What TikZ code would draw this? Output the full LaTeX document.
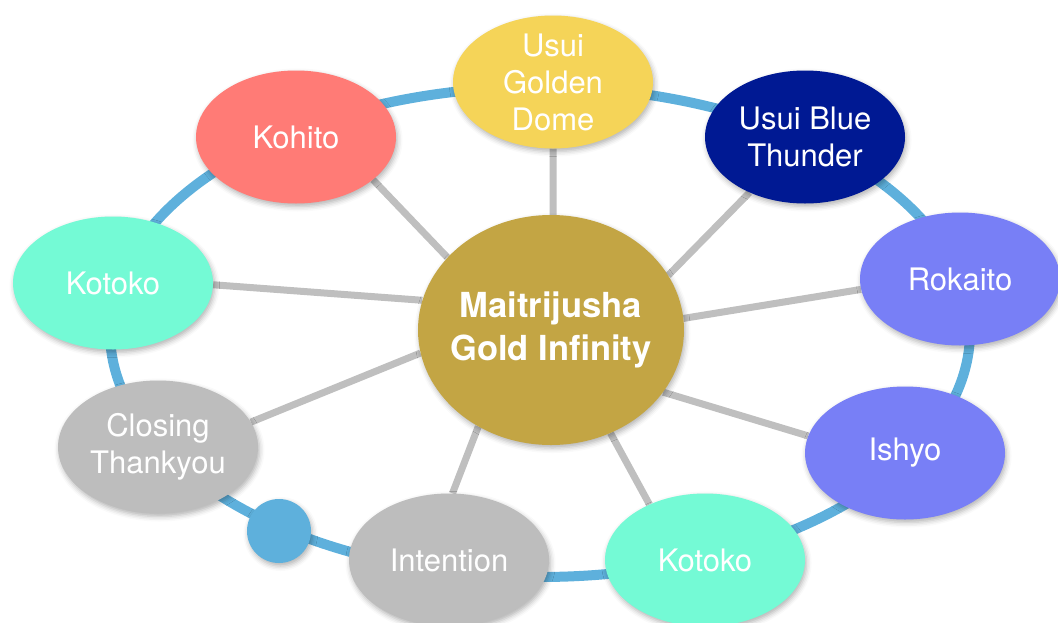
\documentclass[tikz,border=0pt]{standalone}
\usepackage{fontspec}
\setmainfont{TeX Gyre Heros}
\usetikzlibrary{shapes.geometric,shadows.blur}
\pgfdeclarelayer{bg}
\pgfsetlayers{bg,main}
\definecolor{ringblue}{HTML}{5EB0DC}
\definecolor{spokegray}{HTML}{BFBFBF}
\definecolor{goldc}{HTML}{C3A544}
\definecolor{domey}{HTML}{F5D458}
\definecolor{salmon}{HTML}{FF7B76}
\definecolor{navy}{HTML}{001993}
\definecolor{violet}{HTML}{787FF6}
\definecolor{mint}{HTML}{74FAD5}
\definecolor{greyn}{HTML}{BDBDBD}
\begin{document}
\begin{tikzpicture}[x=1pt,y=-1pt,
  shade/.style={blur shadow={shadow xshift=1.5pt,shadow yshift=-3pt,shadow blur radius=5pt,shadow opacity=30}},
  bubble/.style={ellipse, minimum width=200pt, minimum height=133pt, inner sep=-10pt,
    text=white, align=center, font=\fontsize{31}{37}\selectfont, shade},
  hub/.style={ellipse, minimum width=266pt, minimum height=230pt, inner sep=-10pt,
    text=white, align=center, font=\fontsize{34.5}{43}\selectfont\bfseries, fill=goldc, shade},
  spoke/.style={draw=spokegray, line width=7pt},
  ringline/.style={draw=ringblue, line width=10pt}]
\useasboundingbox (0,0) rectangle (1058,622);

\node[hub] (hub) at (551,330) {Maitrijusha\\Gold Infinity};
\node[bubble, fill=domey] (dome) at (553,82) {Usui\\Golden\\Dome};
\node[bubble, fill=salmon] (kohito) at (296,137) {Kohito};
\node[bubble, fill=navy] (thunder) at (805,137) {Usui Blue\\Thunder};
\node[bubble, fill=violet] (rokaito) at (960,279) {Rokaito};
\node[bubble, fill=mint] (kotokoL) at (113,283) {Kotoko};
\node[bubble, fill=greyn] (closing) at (158,447) {Closing\\Thankyou};
\node[bubble, fill=violet] (ishyo) at (905,453) {Ishyo};
\node[bubble, fill=greyn] (intention) at (449,560) {Intention};
\node[bubble, fill=mint] (kotokoB) at (705,560) {Kotoko};
\node[circle, fill=ringblue, minimum size=64pt, inner sep=0pt, shade] (dot) at (279,531) {};

\begin{pgfonlayer}{bg}
\draw[ringline] (540,332) ellipse [x radius=430, y radius=245];
\draw[spoke] (dome.270) -- (hub.89);
\draw[spoke] (kohito.-29) -- (hub.145);
\draw[spoke] (thunder.225) -- (hub.25);
\draw[spoke] (kotokoL.-1) -- (hub.167);
\draw[spoke] (rokaito.186) -- (hub.5);
\draw[spoke] (closing.15) -- (hub.190);
\draw[spoke] (ishyo.170) -- (hub.-29);
\draw[spoke] (intention.87) -- (hub.233);
\draw[spoke] (kotokoB.135) -- (hub.-60);
\end{pgfonlayer}
\end{tikzpicture}
\end{document}
